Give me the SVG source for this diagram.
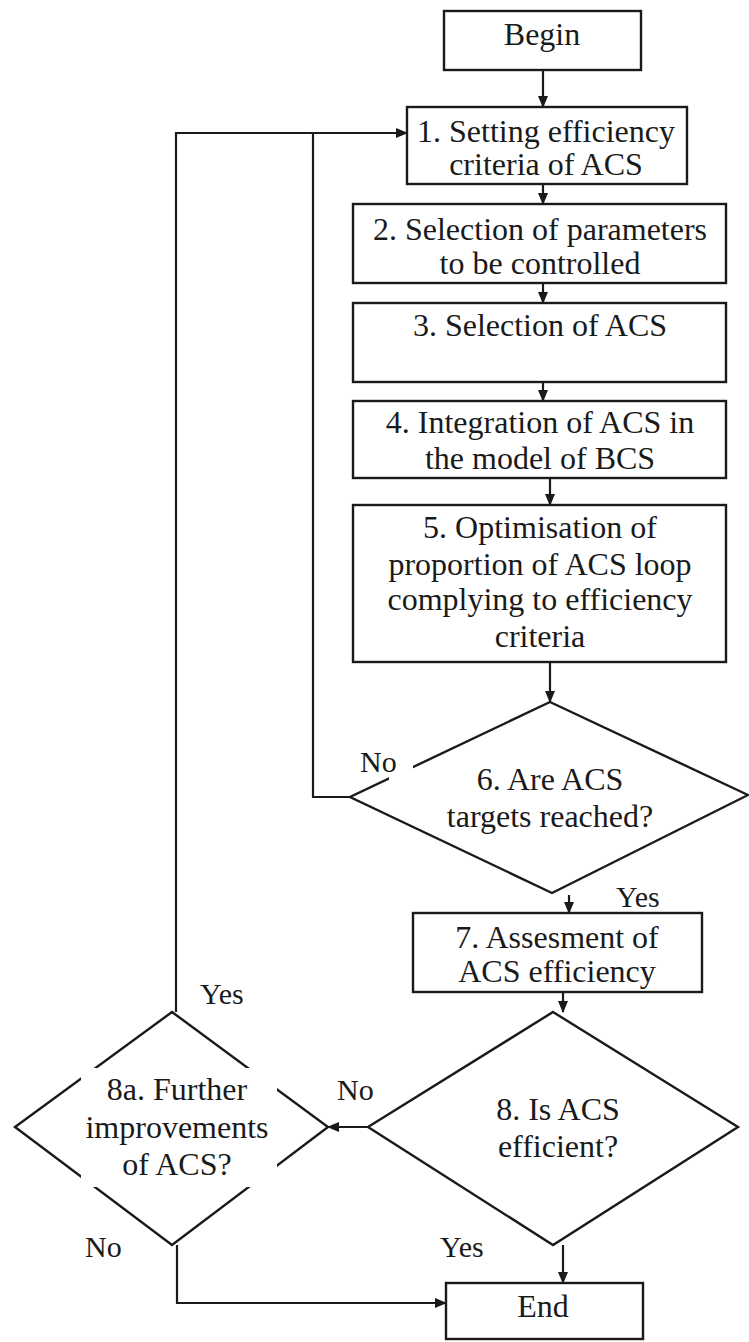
<svg xmlns="http://www.w3.org/2000/svg" width="749" height="1342" viewBox="0 0 749 1342">
  <style>
    .box { fill: #fff; stroke: #1a1a1a; stroke-width: 2.4; }
    .gap { fill: #fff; stroke: none; }
    .t { font-family: "Liberation Serif", "Times New Roman", serif; font-size: 32px; fill: #1a1a1a; text-anchor: middle; }
    .lbl { font-family: "Liberation Serif", "Times New Roman", serif; font-size: 30px; fill: #1a1a1a; }
    .edge { fill: none; stroke: #1a1a1a; stroke-width: 2.2; }
    .arr { marker-end: url(#head); }
  </style>
  <defs>
    <marker id="head" markerUnits="userSpaceOnUse" markerWidth="12" markerHeight="10" refX="11" refY="5" orient="auto">
      <path d="M0,0 L12,5 L0,10 z" fill="#1a1a1a"/>
    </marker>
  </defs>
  <rect width="749" height="1342" fill="#fff"/>

  <!-- connectors -->
  <g id="connectors">
    <path class="edge arr" d="M543,70 V107"/>
    <path class="edge arr" d="M543,184 V204"/>
    <path class="edge arr" d="M543,283 V303"/>
    <path class="edge arr" d="M543,382 V401"/>
    <path class="edge arr" d="M550,478 V505"/>
    <path class="edge arr" d="M550,662 V702"/>
    <path class="edge arr" d="M569,895 V913"/>
    <path class="edge arr" d="M563,992 V1012"/>
    <path class="edge arr" d="M563,1245 V1283"/>
    <!-- 6 No: back to step 1 -->
    <path class="edge" d="M350,797 H313 V133"/>
    <!-- 8a Yes: back to step 1 -->
    <path class="edge arr" d="M176,1012 V133 H407"/>
    <!-- 8 No: to 8a -->
    <path class="edge arr" d="M368,1127 H328"/>
    <!-- 8a No: to End -->
    <path class="edge arr" d="M177,1245 V1303 H446"/>
  </g>

  <g id="begin">
    <rect class="box" x="444" y="11" width="197" height="59"/>
    <text class="t" x="542" y="45">Begin</text>
  </g>

  <g id="step1">
    <rect class="box" x="407" y="107" width="280" height="77"/>
    <text class="t" x="546" y="142">1. Setting efficiency</text>
    <text class="t" x="546" y="175">criteria of ACS</text>
  </g>

  <g id="step2">
    <rect class="box" x="353" y="204" width="373" height="79"/>
    <text class="t" x="540" y="240">2. Selection of parameters</text>
    <text class="t" x="540" y="274">to be controlled</text>
  </g>

  <g id="step3">
    <rect class="box" x="353" y="303" width="373" height="79"/>
    <text class="t" x="540" y="336">3. Selection of ACS</text>
  </g>

  <g id="step4">
    <rect class="box" x="353" y="401" width="373" height="77"/>
    <text class="t" x="540" y="433">4. Integration of ACS in</text>
    <text class="t" x="540" y="469">the model of BCS</text>
  </g>

  <g id="step5">
    <rect class="box" x="353" y="505" width="373" height="157"/>
    <text class="t" x="540" y="538">5. Optimisation of</text>
    <text class="t" x="540" y="575">proportion of ACS loop</text>
    <text class="t" x="540" y="610">complying to efficiency</text>
    <text class="t" x="540" y="647">criteria</text>
  </g>

  <g id="decision6">
    <polygon class="box" points="550,702 748,795 552,893 350,797"/>
    <rect class="gap" x="389" y="760" width="24" height="22"/>
    <text class="t" x="550" y="790">6. Are ACS</text>
    <text class="t" x="550" y="827">targets reached?</text>
  </g>

  <g id="step7">
    <rect class="box" x="413" y="913" width="289" height="79"/>
    <text class="t" x="557" y="948">7. Assesment of</text>
    <text class="t" x="557" y="982">ACS efficiency</text>
  </g>

  <g id="decision8">
    <polygon class="box" points="553,1012 738,1127 553,1245 368,1127"/>
    <text class="t" x="558" y="1120">8. Is ACS</text>
    <text class="t" x="558" y="1157">efficient?</text>
  </g>

  <g id="decision8a">
    <polygon class="box" points="172,1012 328,1127 172,1245 15,1127"/>
    <rect class="gap" x="81" y="1068" width="196" height="119"/>
    <text class="t" x="177" y="1100">8a. Further</text>
    <text class="t" x="177" y="1138">improvements</text>
    <text class="t" x="177" y="1175">of ACS?</text>
  </g>

  <g id="end">
    <rect class="box" x="446" y="1283" width="197" height="56"/>
    <text class="t" x="543" y="1317">End</text>
  </g>

  <g id="labels">
    <text class="lbl" x="360" y="772">No</text>
    <text class="lbl" x="616" y="907">Yes</text>
    <text class="lbl" x="200" y="1004">Yes</text>
    <text class="lbl" x="337" y="1100">No</text>
    <text class="lbl" x="440" y="1257">Yes</text>
    <text class="lbl" x="85" y="1257">No</text>
  </g>
</svg>
